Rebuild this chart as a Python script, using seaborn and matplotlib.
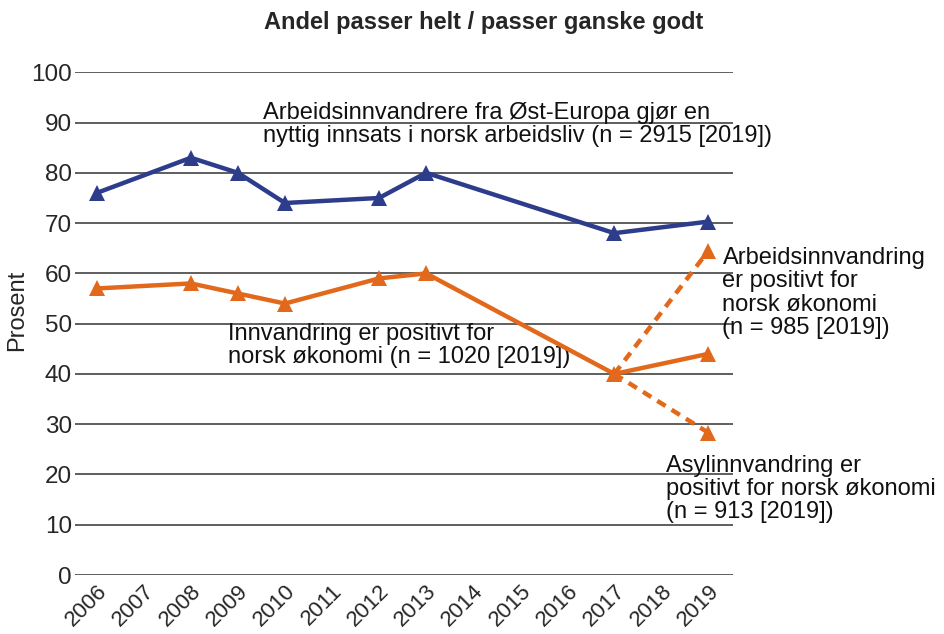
import pandas as pd
import matplotlib.pyplot as plt
import matplotlib.transforms as mtransforms
import seaborn as sns

# ----------------------------------------
# Data
# ----------------------------------------
years = [2006, 2008, 2009, 2010, 2012, 2013, 2017, 2019]
ost_europa = [76, 83, 80, 74, 75, 80, 68, 70.3]
innvandring = [57, 58, 56, 54, 59, 60, 40, 44]

split_years = [2017, 2019]
arbeid = [40, 64.5]
asyl = [40, 28.3]

all_years = list(range(2006, 2020))

blue = "#2E3C8C"
orange = "#E2691B"

sns.set_theme(style="white")
plt.rcParams["font.family"] = ["Liberation Sans", "DejaVu Sans"]

fig = plt.figure(figsize=(9.45, 6.34), dpi=100)
ax = fig.add_axes([0.079, 0.093, 0.697, 0.793])

df_main = pd.DataFrame({"year": years, "ost": ost_europa, "inn": innvandring})
df_split = pd.DataFrame({"year": split_years, "arbeid": arbeid, "asyl": asyl})

sns.lineplot(data=df_main, x="year", y="ost", ax=ax, color=blue, lw=3.2,
             marker="^", markersize=11, markeredgewidth=0, zorder=5)
sns.lineplot(data=df_main, x="year", y="inn", ax=ax, color=orange, lw=3.2,
             marker="^", markersize=11, markeredgewidth=0, zorder=5)
for col in ["arbeid", "asyl"]:
    sns.lineplot(data=df_split, x="year", y=col, ax=ax, color=orange, lw=3.2,
                 ls=(0, (2.2, 1.6)), marker="^", markersize=11,
                 markeredgewidth=0, markevery=[1], zorder=4)

# ----------------------------------------
# Axes styling
# ----------------------------------------
ax.set_xlim(2005.53, 2019.53)
ax.set_ylim(0, 100)
ax.set_yticks(range(0, 101, 10))
ax.set_xticks(all_years)
ax.set_xticklabels([str(y) for y in all_years], rotation=45, ha="right",
                   rotation_mode="anchor", fontsize=16)
shift = mtransforms.ScaledTranslation(15 / 100, 0, fig.dpi_scale_trans)
for lab in ax.get_xticklabels():
    lab.set_transform(lab.get_transform() + shift)
ax.tick_params(axis="y", labelsize=17.5, length=0, pad=2)
ax.tick_params(axis="x", length=0, pad=4)
ax.yaxis.grid(True, color="#333333", lw=1.1)
ax.xaxis.grid(False)
for s in ax.spines.values():
    s.set_visible(False)
ax.set_xlabel("")
ax.set_ylabel("")
fig.text(0.018, 1 - 310 / 634, "Prosent", rotation=90, ha="center", va="center",
         fontsize=17)

fig.text(0.512, 0.982, "Andel passer helt / passer ganske godt",
         ha="center", va="top", fontsize=17, fontweight="bold")

# ----------------------------------------
# Annotations
# ----------------------------------------
txt = dict(fontsize=17, va="top", ha="left", linespacing=1.07, color="#111111")
ax.text(2009.53, 94.1,
        "Arbeidsinnvandrere fra Øst-Europa gjør en\nnyttig innsats i norsk arbeidsliv (n = 2915 [2019])",
        **txt)
ax.text(2008.79, 50.2, "Innvandring er positivt for\nnorsk økonomi (n = 1020 [2019])", **txt)
ax.text(2019.3, 65.2, "Arbeidsinnvandring\ner positivt for\nnorsk økonomi\n(n = 985 [2019])",
        clip_on=False, **txt)
ax.text(2018.09, 23.9, "Asylinnvandring er\npositivt for norsk økonomi\n(n = 913 [2019])",
        clip_on=False, **txt)

plt.savefig("out.png", dpi=100)
plt.close()
